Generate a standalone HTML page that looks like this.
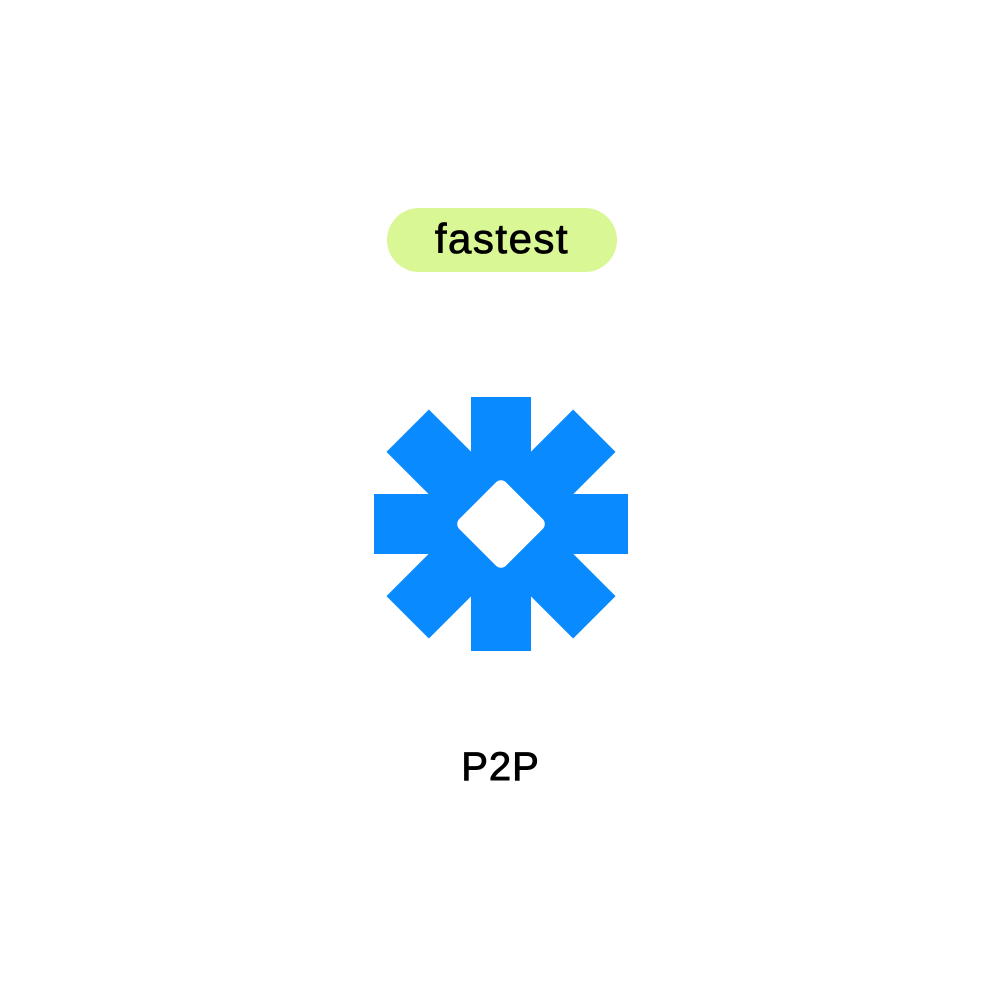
<!DOCTYPE html>
<html><head><meta charset="utf-8"><style>
html,body{margin:0;padding:0;background:#fff;width:1001px;height:1001px;overflow:hidden}
.pill{position:absolute;left:387px;top:208px;width:230px;height:64px;border-radius:32px;background:#d9f794;font-family:"Liberation Sans",sans-serif;font-size:42px;line-height:62px;text-align:center;color:#000;letter-spacing:1.5px;-webkit-text-stroke:0.8px #000}
.lbl{position:absolute;left:0;width:1001px;top:742px;text-align:center;font-family:"Liberation Sans",sans-serif;font-size:40px;line-height:50px;color:#000;letter-spacing:1px;-webkit-text-stroke:0.9px #000}
svg{position:absolute;left:0;top:0}
</style></head><body>
<div class="pill">fastest</div>
<svg width="1001" height="1001">
<g fill="#0a8aff">
<rect x="471" y="397" width="60" height="254"/>
<rect x="374" y="494" width="254" height="60"/>
<rect x="471" y="392" width="60" height="264" transform="rotate(45 501 524)"/>
<rect x="471" y="392" width="60" height="264" transform="rotate(-45 501 524)"/>
</g>
<rect x="468" y="491" width="66" height="66" rx="7" fill="#fff" transform="rotate(45 501 524)"/>
</svg>
<div class="lbl">P2P</div>
</body></html>
